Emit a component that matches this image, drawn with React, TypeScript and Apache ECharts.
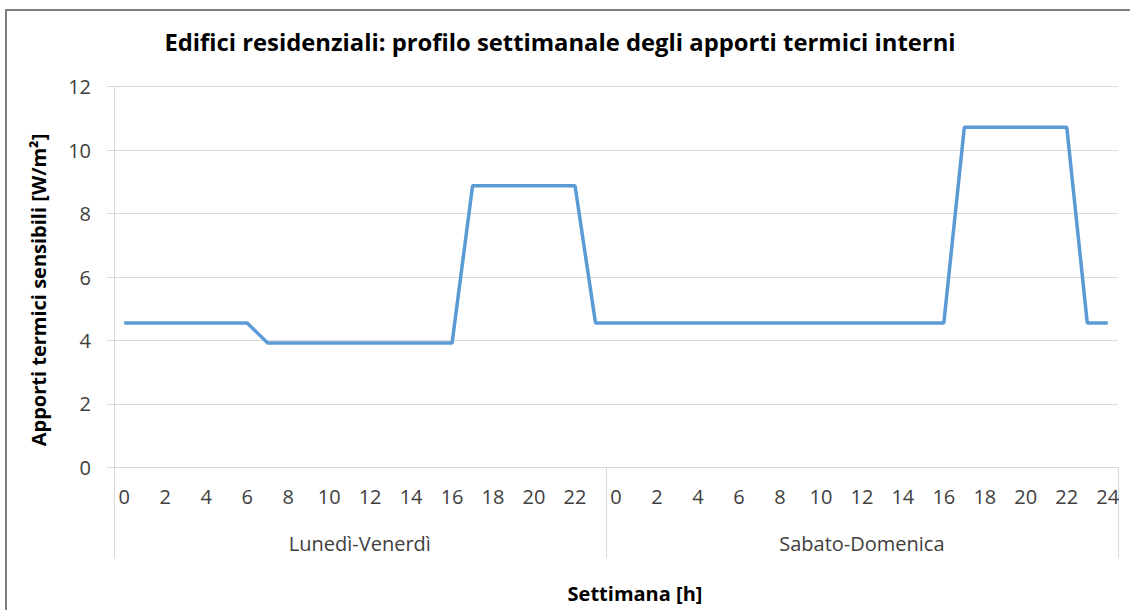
import { useEffect, useRef } from "react";
import * as echarts from "echarts";

// Hours of the two day-type groups (tick labels)
const weekdayHours = [0, 1, 2, 3, 4, 5, 6, 7, 8, 9, 10, 11, 12, 13, 14, 15, 16, 17, 18, 19, 20, 21, 22, 23];
const weekendHours = [0, 1, 2, 3, 4, 5, 6, 7, 8, 9, 10, 11, 12, 13, 14, 15, 16, 17, 18, 19, 20, 21, 22, 23, 24];

// Sensible internal heat gains [W/m²]
const weekdayGains = [
  4.55, 4.55, 4.55, 4.55, 4.55, 4.55, 4.55,
  3.92, 3.92, 3.92, 3.92, 3.92, 3.92, 3.92, 3.92, 3.92, 3.92,
  8.88, 8.88, 8.88, 8.88, 8.88, 8.88,
  4.55,
];
const weekendGains = [
  4.55, 4.55, 4.55, 4.55, 4.55, 4.55, 4.55, 4.55, 4.55, 4.55, 4.55, 4.55, 4.55, 4.55, 4.55, 4.55, 4.55,
  10.72, 10.72, 10.72, 10.72, 10.72, 10.72,
  4.55, 4.55,
];

const groupLabels = ["Lunedì-Venerdì", "Sabato-Domenica"];
const chartTitle = "Edifici residenziali: profilo settimanale degli apporti termici interni";
const xTitle = "Settimana [h]";
const yTitle = "Apporti termici sensibili [W/m²]";

const yMin = 0;
const yMax = 12;
const yInterval = 2;

export default function App() {
  const ref = useRef<HTMLDivElement>(null);

  useEffect(() => {
    if (!ref.current) return;
    const chart = echarts.init(ref.current, undefined, { renderer: "svg" });

    const categories = [
      ...weekdayHours.map((h) => `L|${h}`),
      ...weekendHours.map((h) => `S|${h}`),
    ];
    const values = [...weekdayGains, ...weekendGains];
    const nWeekday = weekdayHours.length;
    const g1Idx = nWeekday / 2 - 1; // label sits at group centre (half band shift via padding)
    const g2Idx = nWeekday + Math.floor(weekendHours.length / 2);

    const font = "'Open Sans', Lato, sans-serif";
    const textColor = "#404040";
    const lineGray = "#d9d9d9";

    chart.setOption({
      animation: false,
      backgroundColor: "#ffffff",
      textStyle: { fontFamily: font },
      title: [
        {
          text: chartTitle,
          left: 560,
          top: 30,
          padding: 0,
          textAlign: "center",
          textStyle: { fontFamily: font, fontSize: 23.8, fontWeight: "bold", color: "#000000" },
        },
        {
          text: xTitle,
          left: 635,
          top: 583,
          padding: 0,
          textAlign: "center",
          textStyle: { fontFamily: font, fontSize: 20, fontWeight: "bold", color: "#000000" },
        },
      ],
      graphic: [
        {
          type: "polyline",
          shape: { points: [[6, 610], [6, 10], [1130, 10]] },
          style: { stroke: "#7f7f7f", lineWidth: 2, fill: "none" },
          silent: true,
        },
      ],
      grid: { left: 114, right: 12, top: 86.7, bottom: 142.7, containLabel: false },
      xAxis: [
        {
          type: "category",
          data: categories,
          boundaryGap: true,
          position: "bottom",
          axisLine: { show: true, lineStyle: { color: lineGray, width: 1 } },
          axisTick: { show: false },
          splitLine: { show: false },
          axisLabel: {
            interval: (_i: number, v: string) => Number(String(v).split("|")[1]) % 2 === 0,
            formatter: (v: string) => String(v).split("|")[1],
            fontFamily: font,
            fontSize: 20,
            color: textColor,
            margin: 19,
          },
        },
        {
          type: "category",
          data: categories,
          boundaryGap: true,
          position: "bottom",
          offset: 0,
          axisLine: { show: false },
          axisTick: {
            show: true,
            interval: (i: number) => i === 0 || i === nWeekday,
            length: 91,
            lineStyle: { color: lineGray, width: 1 },
          },
          splitLine: { show: false },
          axisLabel: {
            interval: (i: number) => i === g1Idx || i === g2Idx,
            formatter: (_v: string, i: number) =>
              i === g1Idx ? `{p|${groupLabels[0]}}` : i === g2Idx ? groupLabels[1] : "",
            fontFamily: font,
            fontSize: 20,
            color: textColor,
            margin: 66,
            rich: {
              p: { padding: [0, 0, 0, 20.5], fontFamily: font, fontSize: 20, color: textColor },
            },
          },
        },
      ],
      yAxis: {
        type: "value",
        min: yMin,
        max: yMax,
        interval: yInterval,
        name: yTitle,
        nameLocation: "middle",
        nameGap: 66,
        nameTextStyle: {
          fontFamily: font,
          fontSize: 20,
          fontWeight: "bold",
          color: "#000000",
          padding: [0, 26, 0, 0],
        },
        axisLine: { show: true, lineStyle: { color: lineGray, width: 1 } },
        axisTick: { show: true, length: 7, lineStyle: { color: lineGray, width: 1 } },
        splitLine: { show: true, lineStyle: { color: lineGray, width: 1 } },
        axisLabel: { fontFamily: font, fontSize: 20, color: textColor, margin: 23 },
      },
      series: [
        {
          type: "line",
          xAxisIndex: 0,
          data: values,
          symbol: "none",
          lineStyle: { color: "#5b9bd5", width: 3.5 },
          itemStyle: { color: "#5b9bd5" },
        },
      ],
    });

    return () => chart.dispose();
  }, []);

  return (
    <div
      ref={ref}
      style={{ position: "absolute", left: 0, top: 0, width: 1130, height: 610 }}
    />
  );
}
